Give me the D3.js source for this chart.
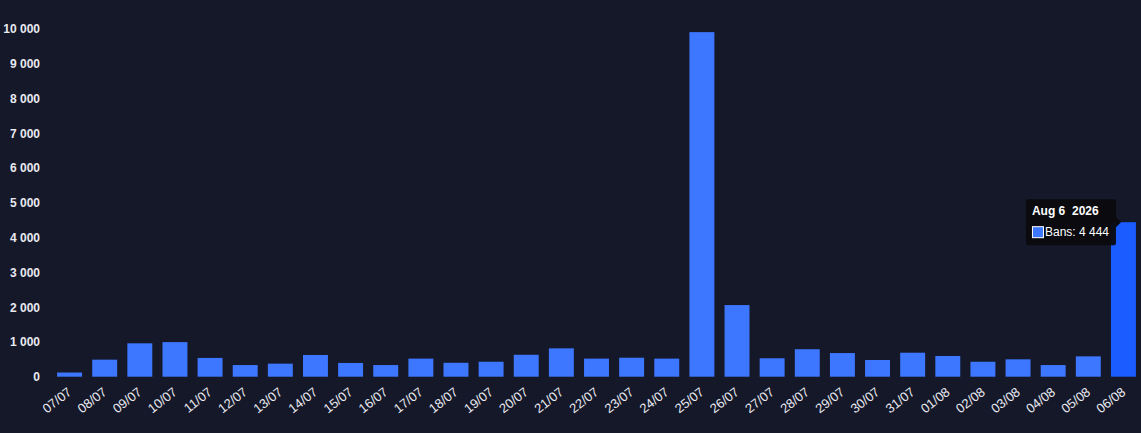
<!DOCTYPE html>
<html>
<head>
<meta charset="utf-8">
<script src="https://cdn.jsdelivr.net/npm/d3@7"></script>
<style>
  html, body { margin: 0; padding: 0; background: #151829; }
  svg { display: block; }
  text { font-family: "Liberation Sans", Arial, sans-serif; }
</style>
</head>
<body>
<svg id="chart" width="1141" height="433"></svg>
<script>
const categories = ["07/07","08/07","09/07","10/07","11/07","12/07","13/07","14/07","15/07","16/07",
  "17/07","18/07","19/07","20/07","21/07","22/07","23/07","24/07","25/07","26/07","27/07",
  "28/07","29/07","30/07","31/07","01/08","02/08","03/08","04/08","05/08","06/08"];
const bans = [120, 490, 960, 995, 540, 335, 375, 625, 395, 335,
  520, 400, 430, 630, 815, 520, 545, 520, 9910, 2060, 530,
  790, 680, 480, 690, 595, 430, 500, 335, 585, 4444];
const yTicks = [0,1000,2000,3000,4000,5000,6000,7000,8000,9000,10000];
const tooltipTitle = "Aug 6  2026";
const seriesName = "Bans";
const highlightIndex = 30;

const svg = d3.select("#chart");
const fmt = v => d3.format(",")(v).replace(/,/g, " ");

const x = d3.scaleBand().domain(categories).range([52, 1141]).paddingInner(0.29).paddingOuter(0.145);
const y = d3.scaleLinear().domain([0, 10000]).range([376.7, 29]);

// y axis labels
const yAxis = svg.append("g").attr("transform", "translate(40,0)")
  .call(d3.axisLeft(y).tickValues(yTicks).tickSize(0).tickPadding(0).tickFormat(fmt));
yAxis.select(".domain").remove();
yAxis.selectAll("text").attr("fill", "#e8e9f0").attr("font-size", 12).attr("font-weight", "bold")
  .attr("font-family", "'Liberation Sans', Arial, sans-serif");

// bars
svg.append("g").selectAll("rect").data(bans).join("rect")
  .attr("x", (d, i) => x(categories[i]))
  .attr("y", d => y(d))
  .attr("width", x.bandwidth())
  .attr("height", d => y(0) - y(d))
  .attr("fill", (d, i) => i === highlightIndex ? "#1a5cff" : "#3d77ff");

// x axis labels
const xAxis = svg.append("g").attr("transform", `translate(0,${y(0)})`)
  .call(d3.axisBottom(x).tickSize(0).tickPadding(0));
xAxis.select(".domain").remove();
xAxis.selectAll("text")
  .attr("fill", "#e8e9f0").attr("font-size", 13)
  .attr("font-family", "'Liberation Sans', Arial, sans-serif")
  .attr("text-anchor", "end")
  .attr("dy", null)
  .attr("transform", "translate(3,17) rotate(-38)");

// tooltip
const bx = x(categories[highlightIndex]);
const by = y(bans[highlightIndex]);
const tw = 90, th = 46;
const tx = bx + 5 - tw, ty = by - 23;
const tip = svg.append("g");
tip.append("rect").attr("x", tx).attr("y", ty).attr("width", tw).attr("height", th)
  .attr("rx", 2).attr("fill", "#0a0a0e").attr("opacity", 0.95);
tip.append("path")
  .attr("d", `M${tx + tw},${by - 5} L${tx + tw + 5},${by} L${tx + tw},${by + 5} Z`)
  .attr("fill", "#0a0a0e");
tip.append("text").attr("x", tx + 6).attr("y", ty + 16)
  .attr("fill", "#ffffff").attr("font-size", 12).attr("font-weight", "bold")
  .attr("xml:space", "preserve").style("white-space", "pre")
  .text(tooltipTitle);
tip.append("rect").attr("x", tx + 6.5).attr("y", ty + 27.5).attr("width", 11).attr("height", 11)
  .attr("fill", "#3d77ff").attr("stroke", "#ffffff").attr("stroke-width", 1);
tip.append("text").attr("x", tx + 19).attr("y", ty + 37)
  .attr("fill", "#ffffff").attr("font-size", 12)
  .text(`${seriesName}: ${fmt(bans[highlightIndex])}`);
</script>
</body>
</html>
